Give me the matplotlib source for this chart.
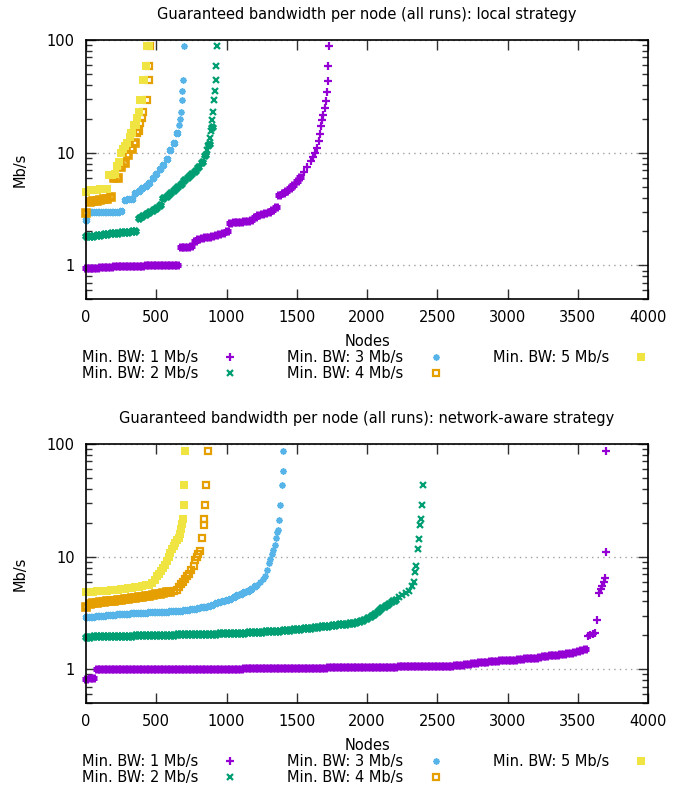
import numpy as np
import matplotlib
matplotlib.use("Agg")
import matplotlib.pyplot as plt
from matplotlib.ticker import FixedLocator, LogLocator, NullFormatter, FuncFormatter

plt.rcParams['font.family'] = ['DejaVu Sans']
plt.rcParams['font.size'] = 10.5

# ---- local strategy (top panel) ----
# sampled every 25 nodes over the dense band, then single points for the tail
loc1_band = [0.94, 0.94, 0.95, 0.95, 0.96, 0.96, 0.97, 0.97, 0.98, 0.98, 0.98, 0.98, 0.99, 0.99,
             0.99, 0.99, 0.99, 1.0, 1.0, 1.0, 1.0, 1.0, 1.0, 1.0, 1.0, 1.0, 1.0,
             1.45, 1.46, 1.47, 1.5,
             1.65, 1.7, 1.74, 1.78, 1.8, 1.83, 1.86, 1.9, 1.95, 2.02,
             2.4, 2.42, 2.44, 2.45, 2.47, 2.5, 2.55,
             2.7, 2.78, 2.85, 2.92, 3.0, 3.12, 3.3,
             4.2, 4.4, 4.6, 4.9, 5.2, 5.6, 6.1]
loc1_tail_x = [1548, 1576, 1602, 1619, 1633, 1643, 1657, 1666, 1676, 1681, 1690, 1700, 1709, 1718, 1723, 1723, 1726]
loc1_tail_y = [6.8, 7.5, 8.5, 9.1, 9.9, 11.0, 12.6, 14.6, 17.4, 19.5, 21.6, 25.1, 29.0, 34.8, 43.6, 58.7, 87.6]

loc2_band = [1.81, 1.83, 1.84, 1.86, 1.87, 1.89, 1.9, 1.92, 1.93, 1.95, 1.96, 1.97, 1.98, 2.0, 2.02,
             2.62, 2.72, 2.85, 2.95, 3.1, 3.25, 3.45,
             3.95, 4.15, 4.4, 4.65, 4.95, 5.3,
             5.75, 6.1, 6.5, 6.9, 7.5, 8.2,
             9.5, 12.0, 17.0]
loc2_tail_x = [860, 868, 880, 890, 897, 905, 912, 918, 925, 928, 934]
loc2_tail_y = [10.5, 11.5, 13.5, 15.5, 19.5, 23, 29.4, 35.3, 44, 58.7, 88]

loc3_band = [2.55, 2.95,
             2.96, 2.97, 2.97, 2.98, 2.98, 2.99, 3.0, 3.0, 3.02,
             3.8, 3.85, 3.9,
             4.4, 4.6, 4.85, 5.1, 5.4,
             6.0, 6.5, 7.1, 7.8, 8.8,
             10.6, 12.3, 14.9]
loc3_tail_x = [660, 668, 675, 680, 684, 688, 694]
loc3_tail_y = [17.5, 20, 23, 29.4, 35, 44, 88]

loc4_band = [2.9, 3.65, 3.7, 3.75, 3.8, 3.85, 3.9, 4.05, 5.9, 6.0, 7.5, 8.1, 9.5, 10.8, 12.2]
loc4_tail_x = [362, 375, 385, 395, 405, 434, 445, 447, 453]
loc4_tail_y = [14.9, 15.5, 18.3, 20.5, 23, 29.4, 44, 58.7, 88]

loc5_band = [4.5, 4.62, 4.66, 4.7, 4.72, 4.76, 4.8]
loc5_tail_x = [165, 185, 205, 220, 235, 250, 265, 280, 295, 310, 320, 330, 345, 355, 365, 375, 385, 395,
               405, 415, 425, 435, 445]
loc5_tail_y = [6.3, 6.4, 6.5, 7.6, 8.2, 9.9, 10.8, 11.5, 12.2, 13.9, 14.9, 14.9, 17.7, 17.7, 20.3, 23,
               29.4, 29.4, 44, 44, 58.7, 88, 88]

# ---- network-aware strategy (bottom panel) ----
net1_low_x = [0, 25, 50]
net1_low_y = [0.82, 0.83, 0.83]
net1_band = [1.0, 1.0, 1.0, 1.0, 1.0, 1.0, 1.0, 1.0, 1.0, 1.0,
             1.0, 1.0, 1.0, 1.005, 1.005, 1.005, 1.005, 1.005, 1.005, 1.005,
             1.01, 1.01, 1.01, 1.01, 1.01, 1.01, 1.01, 1.01, 1.01, 1.012,
             1.012, 1.012, 1.012, 1.012, 1.012, 1.015, 1.015, 1.015, 1.015, 1.015, 1.015,
             1.017, 1.018, 1.02, 1.02, 1.02, 1.022, 1.022, 1.024, 1.024, 1.025,
             1.026, 1.027, 1.028, 1.029, 1.03, 1.03, 1.031, 1.032, 1.033, 1.034,
             1.035, 1.035, 1.036, 1.037, 1.038,
             1.04, 1.04, 1.041, 1.042, 1.043, 1.044, 1.045, 1.046, 1.047, 1.048,
             1.049, 1.05, 1.051, 1.052, 1.053, 1.054, 1.055, 1.056, 1.057, 1.058,
             1.06, 1.061, 1.062, 1.064, 1.066, 1.068,
             1.07, 1.071, 1.072, 1.073, 1.074, 1.075, 1.077, 1.078, 1.08, 1.081, 1.083, 1.085,
             1.1, 1.11, 1.12, 1.13, 1.14, 1.15, 1.16, 1.17, 1.18,
             1.18, 1.19, 1.2, 1.2, 1.21, 1.22, 1.22, 1.23, 1.24, 1.25, 1.25, 1.26, 1.27, 1.28,
             1.31, 1.32, 1.33, 1.34, 1.35, 1.36, 1.38, 1.39, 1.41, 1.43, 1.45, 1.47, 1.5]
net1_tail_x = [3572, 3590, 3608, 3622, 3640, 3652, 3664, 3675, 3686, 3696, 3702, 3702]
net1_tail_y = [1.98, 2.02, 2.04, 2.08, 2.72, 4.8, 5.2, 5.5, 5.9, 6.5, 10.9, 86.7]

net2_band = [1.95, 1.95, 1.96, 1.96, 1.96, 1.97, 1.97, 1.97, 1.98, 1.98,
             1.98, 1.99, 1.99, 1.99, 2.0, 2.0, 2.0, 2.01, 2.01, 2.01,
             2.02, 2.02, 2.02, 2.03, 2.03, 2.03, 2.04, 2.04, 2.04, 2.05,
             2.05, 2.05, 2.06, 2.06, 2.06, 2.07, 2.07, 2.07, 2.08, 2.08, 2.08,
             2.09, 2.1, 2.1, 2.11, 2.12, 2.13, 2.14, 2.14, 2.15, 2.16, 2.17,
             2.18, 2.19, 2.2, 2.21, 2.22, 2.24, 2.25, 2.27, 2.28, 2.3, 2.32,
             2.34, 2.35, 2.37, 2.38, 2.4, 2.42, 2.44, 2.46, 2.48, 2.5, 2.52, 2.54, 2.57, 2.6,
             2.62, 2.68, 2.75, 2.85, 2.95, 3.07,
             3.3, 3.5, 3.63, 3.8, 4.0, 4.16]
net2_tail_x = [2225, 2250, 2275, 2300, 2320, 2335, 2345, 2352, 2362, 2372, 2380, 2384, 2390, 2397]
net2_tail_y = [4.4, 4.6, 4.8, 5.0, 5.5, 6.0, 7.3, 8.2, 11.6, 14.3, 19.2, 21.7, 29, 43.6]

net3_band = [2.9, 2.92, 2.94, 2.96, 2.98, 3.0, 3.01, 3.03, 3.05, 3.07, 3.08, 3.1, 3.12, 3.13, 3.15,
             3.17, 3.18, 3.19, 3.2, 3.21, 3.22,
             3.23, 3.24, 3.25, 3.27, 3.28, 3.3, 3.32, 3.35, 3.38, 3.42, 3.46, 3.5, 3.55, 3.6, 3.67, 3.75,
             3.85, 3.95, 4.05, 4.15, 4.25, 4.4, 4.55, 4.7, 4.85, 5.0, 5.2, 5.45]
net3_tail_x = [1220, 1240, 1258, 1275, 1288, 1299, 1312, 1325, 1334, 1345, 1353, 1362, 1370, 1374,
               1382, 1394, 1399, 1401]
net3_tail_y = [5.6, 5.9, 6.3, 6.7, 7.6, 8.8, 9.6, 10.5, 11.5, 12.8, 14.7, 16.5, 17.3, 21.3,
               28.8, 43.5, 58, 86.7]

net4_band = [3.6, 3.8, 3.85, 3.9, 3.95, 3.98, 4.0, 4.03, 4.06, 4.1, 4.14, 4.18, 4.22, 4.26, 4.3,
             4.35, 4.4, 4.46, 4.52, 4.58, 4.64, 4.7, 4.76, 4.82, 4.9]
net4_tail_x = [625, 645, 660, 675, 690, 705, 720, 735, 750, 765, 778, 790, 800, 813, 825, 837, 842,
               849, 856, 868]
net4_tail_y = [4.95, 5.1, 5.4, 5.77, 6.0, 6.3, 6.7, 7.0, 7.6, 8.2, 9.4, 10.0, 10.5, 11.2, 14.6, 19.2,
               21.7, 28.8, 43.5, 86.7]

net5_band = [4.83, 4.86, 4.9, 4.93, 4.96, 4.98, 5.0, 5.02, 5.05, 5.08, 5.12, 5.17, 5.22, 5.28, 5.35,
             5.42, 5.5, 5.58, 5.65]
net5_tail_x = [470, 490, 505, 520, 535, 550, 564, 578, 590, 600, 612, 625, 635, 647, 659, 668, 676,
               682, 688, 695, 700, 702]
net5_tail_y = [5.8, 6.2, 6.7, 7.0, 7.5, 8.0, 8.5, 9.2, 10.0, 10.8, 11.8, 12.5, 13.2, 14.0, 14.6, 16,
               17.5, 19.5, 21.6, 28.8, 43.5, 86.7]

labels = ["Min. BW: 1 Mb/s", "Min. BW: 2 Mb/s", "Min. BW: 3 Mb/s",
          "Min. BW: 4 Mb/s", "Min. BW: 5 Mb/s"]
colors = ['#9400d3', '#009e73', '#56b4e9', '#e69f00', '#f0e442']
STEP = 25

local_sets = [
    (loc1_band, 0, [], [], loc1_tail_x, loc1_tail_y),
    (loc2_band, 0, [], [], loc2_tail_x, loc2_tail_y),
    (loc3_band, 0, [], [], loc3_tail_x, loc3_tail_y),
    (loc4_band, 0, [], [], loc4_tail_x, loc4_tail_y),
    (loc5_band, 0, [], [], loc5_tail_x, loc5_tail_y),
]
net_sets = [
    (net1_band, 75, net1_low_x, net1_low_y, net1_tail_x, net1_tail_y),
    (net2_band, 0, [], [], net2_tail_x, net2_tail_y),
    (net3_band, 0, [], [], net3_tail_x, net3_tail_y),
    (net4_band, 0, [], [], net4_tail_x, net4_tail_y),
    (net5_band, 0, [], [], net5_tail_x, net5_tail_y),
]

# (marker, dense-band style, sparse-tail style)
marker_styles = [
    ('+', dict(ms=5.5, mew=3.6), dict(ms=5.5, mew=1.6)),
    ('x', dict(ms=4.5, mew=3.4), dict(ms=4.5, mew=1.6)),
    ((8, 2, 0), dict(ms=5, mew=3.0), dict(ms=4.5, mew=1.2)),
    ('s', dict(ms=5, mew=2.6, mfc='none'), dict(ms=4.5, mew=1.6, mfc='none')),
    ('s', dict(ms=6, mew=0), dict(ms=5.5, mew=0)),
]


def draw(ax, sets, title, legend_top):
    handles = []
    for (band, start, px, py, tx, ty), lab, col, (mk, bst, tst) in zip(sets, labels, colors, marker_styles):
        bx = start + STEP * np.arange(len(band))
        ax.plot(np.concatenate([px, bx]), np.concatenate([py, band]), linestyle='none',
                marker=mk, color=col, clip_on=False, **bst)
        h, = ax.plot(tx, ty, linestyle='none', marker=mk, color=col, label=lab,
                     clip_on=False, **tst)
        handles.append(h)
    ax.set_yscale('log')
    ax.set_xlim(0, 4000)
    ax.set_ylim(0.5, 100)
    ax.set_xticks(range(0, 4001, 500))
    ax.yaxis.set_major_locator(FixedLocator([1, 10, 100]))
    ax.yaxis.set_major_formatter(FuncFormatter(lambda v, p: '%g' % v))
    ax.yaxis.set_minor_locator(LogLocator(subs=np.arange(2, 10)))
    ax.yaxis.set_minor_formatter(NullFormatter())
    ax.tick_params(which='both', direction='in', top=True, right=True, color='#303030')
    ax.tick_params(which='major', length=7, width=1, pad=8)
    ax.tick_params(which='minor', length=4, width=1)
    ax.grid(True, which='major', axis='y', linestyle=(0, (1, 3)), color='#a0a0a0', lw=1)
    for sp in ax.spines.values():
        sp.set_linewidth(1.2)
    ax.set_title(title, pad=15, fontsize=10.5)
    ax.set_xlabel('Nodes', labelpad=6)
    ax.set_ylabel('Mb/s', labelpad=14)
    fig.legend(handles, labels, loc='upper left', bbox_to_anchor=(82 / 686, legend_top), ncol=3,
               markerfirst=False, frameon=False, borderpad=0, borderaxespad=0,
               handlelength=1.0, handletextpad=1.7, columnspacing=3.4, labelspacing=0.1)


fig = plt.figure(figsize=(6.86, 7.87), dpi=100)
ax1 = fig.add_axes([0.1254, 0.6197, 0.8192, 0.3295])
ax2 = fig.add_axes([0.1254, 0.1064, 0.8192, 0.3295])

draw(ax1, local_sets, 'Guaranteed bandwidth per node (all runs): local strategy', 1 - 350 / 787)
draw(ax2, net_sets, 'Guaranteed bandwidth per node (all runs): network-aware strategy', 1 - 754 / 787)

fig.savefig('out.png', dpi=100)
